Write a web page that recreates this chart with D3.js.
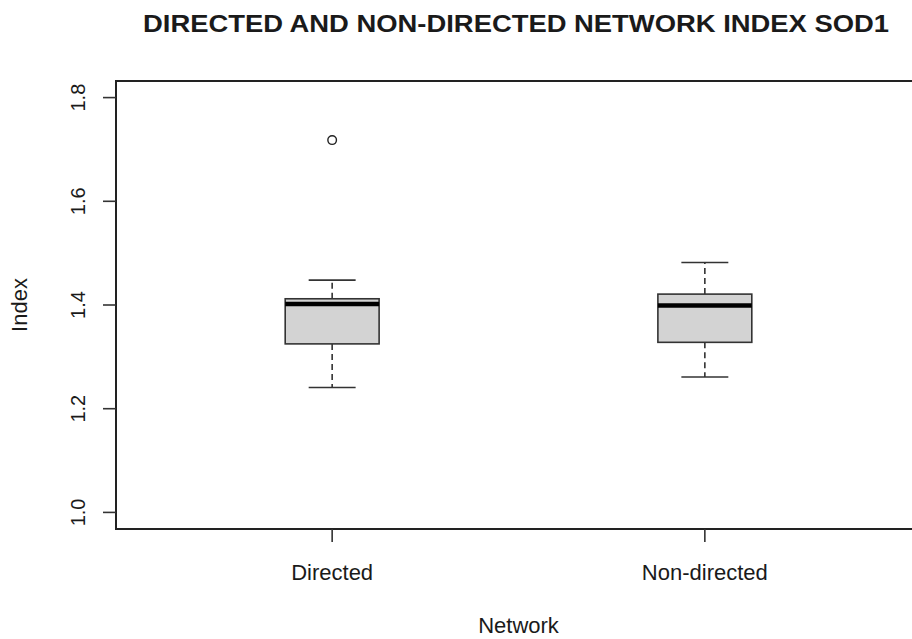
<!DOCTYPE html>
<html>
<head>
<meta charset="utf-8">
<script src="https://cdn.jsdelivr.net/npm/d3@7"></script>
<style>
  body { margin: 0; background: #fff; }
  text { font-family: "Liberation Sans", Arial, sans-serif; fill: #1a1a1a; }
</style>
</head>
<body>
<script>
const width = 912;
const height = 639;

// Box statistics
const groups = ["Directed", "Non-directed"];
const whiskerLo = [1.241, 1.261];
const q1 = [1.325, 1.328];
const median = [1.402, 1.399];
const q3 = [1.412, 1.421];
const whiskerHi = [1.448, 1.482];
const outliers = [[1.718], []];
const yTicks = [1.0, 1.2, 1.4, 1.6, 1.8];

const plot = { left: 116, right: 921, top: 81, bottom: 529 };

const svg = d3.select("body").append("svg")
    .attr("width", width)
    .attr("height", height);

// R style scales: xlim c(0.5, 2.5) and ylim c(1, 1.8), both padded 4%
const x = d3.scaleLinear().domain([0.42, 2.58]).range([plot.left, plot.right]);
const y = d3.scaleLinear().domain([0.968, 1.832]).range([plot.bottom, plot.top]);
const halfBox = 0.126;
const halfCap = 0.063;

const boxes = groups.map((g, i) => ({
    name: g, pos: i + 1,
    lo: whiskerLo[i], q1: q1[i], med: median[i], q3: q3[i], hi: whiskerHi[i],
    out: outliers[i]
}));

const g = svg.append("g");

// whiskers (dashed)
g.selectAll(".wh-up").data(boxes).enter().append("line")
    .attr("x1", d => x(d.pos)).attr("x2", d => x(d.pos))
    .attr("y1", d => y(d.q3)).attr("y2", d => y(d.hi))
    .attr("stroke", "#333").attr("stroke-width", 1.6).attr("stroke-dasharray", "6,4");
g.selectAll(".wh-dn").data(boxes).enter().append("line")
    .attr("x1", d => x(d.pos)).attr("x2", d => x(d.pos))
    .attr("y1", d => y(d.q1)).attr("y2", d => y(d.lo))
    .attr("stroke", "#333").attr("stroke-width", 1.6).attr("stroke-dasharray", "6,4");

// whisker caps
["lo", "hi"].forEach(k => {
    g.selectAll(".cap-" + k).data(boxes).enter().append("line")
        .attr("x1", d => x(d.pos - halfCap)).attr("x2", d => x(d.pos + halfCap))
        .attr("y1", d => y(d[k])).attr("y2", d => y(d[k]))
        .attr("stroke", "#333").attr("stroke-width", 1.6);
});

// boxes
g.selectAll(".box").data(boxes).enter().append("rect")
    .attr("x", d => x(d.pos - halfBox))
    .attr("width", d => x(d.pos + halfBox) - x(d.pos - halfBox))
    .attr("y", d => y(d.q3))
    .attr("height", d => y(d.q1) - y(d.q3))
    .attr("fill", "#d3d3d3")
    .attr("stroke", "#333").attr("stroke-width", 1.6);

// medians
g.selectAll(".med").data(boxes).enter().append("line")
    .attr("x1", d => x(d.pos - halfBox)).attr("x2", d => x(d.pos + halfBox))
    .attr("y1", d => y(d.med)).attr("y2", d => y(d.med))
    .attr("stroke", "#000").attr("stroke-width", 4.5);

// outliers
boxes.forEach(b => {
    g.selectAll(null).data(b.out).enter().append("circle")
        .attr("cx", x(b.pos)).attr("cy", d => y(d))
        .attr("r", 4.3)
        .attr("fill", "none").attr("stroke", "#222").attr("stroke-width", 1.4);
});

// plot frame
svg.append("rect")
    .attr("x", plot.left).attr("y", plot.top)
    .attr("width", plot.right - plot.left).attr("height", plot.bottom - plot.top)
    .attr("fill", "none").attr("stroke", "#222").attr("stroke-width", 2);

// y axis: ticks and rotated labels
const yAxis = svg.append("g");
yAxis.selectAll("line").data(yTicks).enter().append("line")
    .attr("x1", plot.left - 13).attr("x2", plot.left)
    .attr("y1", d => y(d)).attr("y2", d => y(d))
    .attr("stroke", "#333").attr("stroke-width", 1.6);
yAxis.selectAll("text").data(yTicks).enter().append("text")
    .attr("transform", d => `translate(85,${y(d)}) rotate(-90)`)
    .attr("text-anchor", "middle")
    .style("font-size", "20px")
    .text(d => d.toFixed(1));

// x axis: ticks and labels
const xAxis = svg.append("g");
xAxis.selectAll("line").data(boxes).enter().append("line")
    .attr("x1", d => x(d.pos)).attr("x2", d => x(d.pos))
    .attr("y1", plot.bottom).attr("y2", plot.bottom + 13)
    .attr("stroke", "#333").attr("stroke-width", 1.6);
xAxis.selectAll("text").data(boxes).enter().append("text")
    .attr("x", d => x(d.pos)).attr("y", 580)
    .attr("text-anchor", "middle")
    .style("font-size", "22px")
    .text(d => d.name);

// titles
svg.append("text")
    .attr("x", 516).attr("y", 32)
    .attr("text-anchor", "middle")
    .attr("textLength", 746)
    .attr("lengthAdjust", "spacingAndGlyphs")
    .style("font-size", "24.5px").style("font-weight", "bold")
    .text("DIRECTED AND NON-DIRECTED NETWORK INDEX SOD1");

svg.append("text")
    .attr("x", (plot.left + plot.right) / 2).attr("y", 633)
    .attr("text-anchor", "middle")
    .style("font-size", "22px")
    .text("Network");

svg.append("text")
    .attr("transform", `translate(27,${(plot.top + plot.bottom) / 2}) rotate(-90)`)
    .attr("text-anchor", "middle")
    .style("font-size", "22px")
    .text("Index");
</script>
</body>
</html>
